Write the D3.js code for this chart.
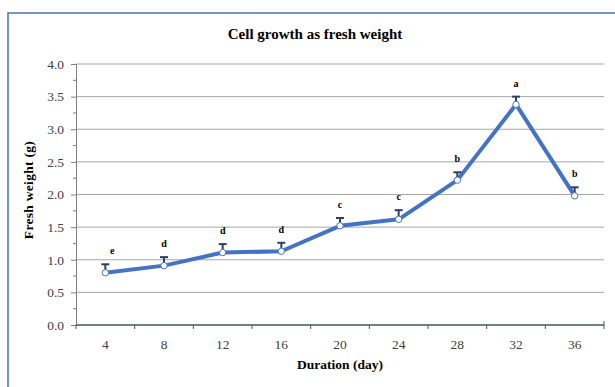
<!DOCTYPE html>
<html>
<head>
<meta charset="utf-8">
<script src="https://cdn.jsdelivr.net/npm/d3@7"></script>
<style>
  html, body { margin: 0; padding: 0; background: #fff; }
  svg { display: block; }
  text { font-family: "Liberation Serif", "Times New Roman", serif; }
</style>
</head>
<body>
<svg id="chart" width="615" height="387"></svg>
<script>
const days = ["4", "8", "12", "16", "20", "24", "28", "32", "36"];
const freshWeight = [0.80, 0.91, 1.11, 1.13, 1.52, 1.62, 2.22, 3.38, 1.98];
const errorUp = [0.13, 0.13, 0.13, 0.13, 0.12, 0.14, 0.12, 0.12, 0.13];
const letters = ["e", "d", "d", "d", "c", "c", "b", "a", "b"];
const yTicks = [0, 0.5, 1.0, 1.5, 2.0, 2.5, 3.0, 3.5, 4.0];

const svg = d3.select("#chart");
const plot = { left: 76, right: 604, top: 64, bottom: 325 };

const x = d3.scaleBand().domain(days).range([plot.left, plot.right]).padding(0);
const y = d3.scaleLinear().domain([0, 4]).range([plot.bottom, plot.top]);
const cx = d => x(d) + x.bandwidth() / 2;

// outer frame
svg.append("rect")
  .attr("x", 8).attr("y", 13).attr("width", 700).attr("height", 500)
  .attr("fill", "none").attr("stroke", "#4a72b8").attr("stroke-width", 1.5);

// gridlines
svg.append("g").selectAll("line").data(yTicks.filter(v => v > 0)).join("line")
  .attr("x1", plot.left).attr("x2", plot.right)
  .attr("y1", d => y(d)).attr("y2", d => y(d))
  .attr("stroke", "#a6a6a6").attr("stroke-width", 1);

// y axis
const yAxis = svg.append("g").attr("transform", `translate(${plot.left},0)`)
  .call(d3.axisLeft(y).tickValues(yTicks).tickFormat(d3.format(".1f")).tickSize(5).tickPadding(7));
yAxis.select(".domain").attr("stroke", "#7f7f7f");
yAxis.selectAll(".tick line").attr("stroke", "#7f7f7f");
yAxis.selectAll("text").attr("font-size", 13.5).attr("fill", "#404040")
  .style("font-family", "'Liberation Serif', serif");
// minor ticks
svg.append("g").selectAll("line").data(d3.range(0.25, 4, 0.5)).join("line")
  .attr("x1", plot.left - 3).attr("x2", plot.left)
  .attr("y1", d => y(d)).attr("y2", d => y(d))
  .attr("stroke", "#7f7f7f");

// x axis labels
const xAxis = svg.append("g").attr("transform", `translate(0,${plot.bottom})`)
  .call(d3.axisBottom(x).tickSize(0).tickPadding(14));
xAxis.select(".domain").remove();
xAxis.selectAll("text").attr("font-size", 13.5).attr("fill", "#404040")
  .style("font-family", "'Liberation Serif', serif");
// x axis line and boundary ticks
svg.append("line")
  .attr("x1", plot.left).attr("x2", plot.right)
  .attr("y1", plot.bottom).attr("y2", plot.bottom)
  .attr("stroke", "#44546a").attr("stroke-width", 1.5);
const bounds = days.map(d => x(d)).concat([x(days[days.length - 1]) + x.bandwidth()]);
svg.append("g").selectAll("line").data(bounds).join("line")
  .attr("x1", d => d).attr("x2", d => d)
  .attr("y1", (d, i) => i === bounds.length - 1 ? plot.bottom - 4 : plot.bottom)
  .attr("y2", plot.bottom + 4)
  .attr("stroke", "#44546a").attr("stroke-width", 1);

// line
svg.append("path")
  .datum(days.map((d, i) => [cx(d), y(freshWeight[i])]))
  .attr("d", d3.line())
  .attr("fill", "none").attr("stroke", "#4472c4").attr("stroke-width", 4)
  .attr("stroke-linejoin", "round");

// error bars
const eb = svg.append("g");
days.forEach((d, i) => {
  const top = y(freshWeight[i] + errorUp[i]);
  eb.append("line").attr("x1", cx(d)).attr("x2", cx(d))
    .attr("y1", y(freshWeight[i])).attr("y2", top)
    .attr("stroke", "#2e3f66").attr("stroke-width", 2);
  eb.append("line").attr("x1", cx(d) - 4).attr("x2", cx(d) + 4)
    .attr("y1", top).attr("y2", top)
    .attr("stroke", "#2e3f66").attr("stroke-width", 2);
});

// markers
svg.append("g").selectAll("circle").data(days).join("circle")
  .attr("cx", d => cx(d)).attr("cy", (d, i) => y(freshWeight[i]))
  .attr("r", 3.2).attr("fill", "#fff").attr("stroke", "#4472c4").attr("stroke-width", 1);

// significance letters
svg.append("g").selectAll("text").data(days).join("text")
  .attr("x", (d, i) => cx(d) + (i === 0 ? 7 : 0))
  .attr("y", (d, i) => y(freshWeight[i] + errorUp[i]) - 10)
  .attr("text-anchor", "middle")
  .attr("font-size", 10).attr("font-weight", "bold").attr("fill", "#000")
  .text((d, i) => letters[i]);

// title
svg.append("text").attr("x", 315).attr("y", 39).attr("text-anchor", "middle")
  .attr("font-size", 15).attr("font-weight", "bold").attr("fill", "#000")
  .text("Cell growth as fresh weight");

// axis titles
svg.append("text").attr("x", 340).attr("y", 369).attr("text-anchor", "middle")
  .attr("font-size", 13.5).attr("font-weight", "bold").attr("fill", "#000")
  .text("Duration (day)");
svg.append("text").attr("transform", "translate(33,190) rotate(-90)")
  .attr("text-anchor", "middle")
  .attr("font-size", 13.5).attr("font-weight", "bold").attr("fill", "#000")
  .attr("letter-spacing", 0.3)
  .text("Fresh weight (g)");
</script>
</body>
</html>
